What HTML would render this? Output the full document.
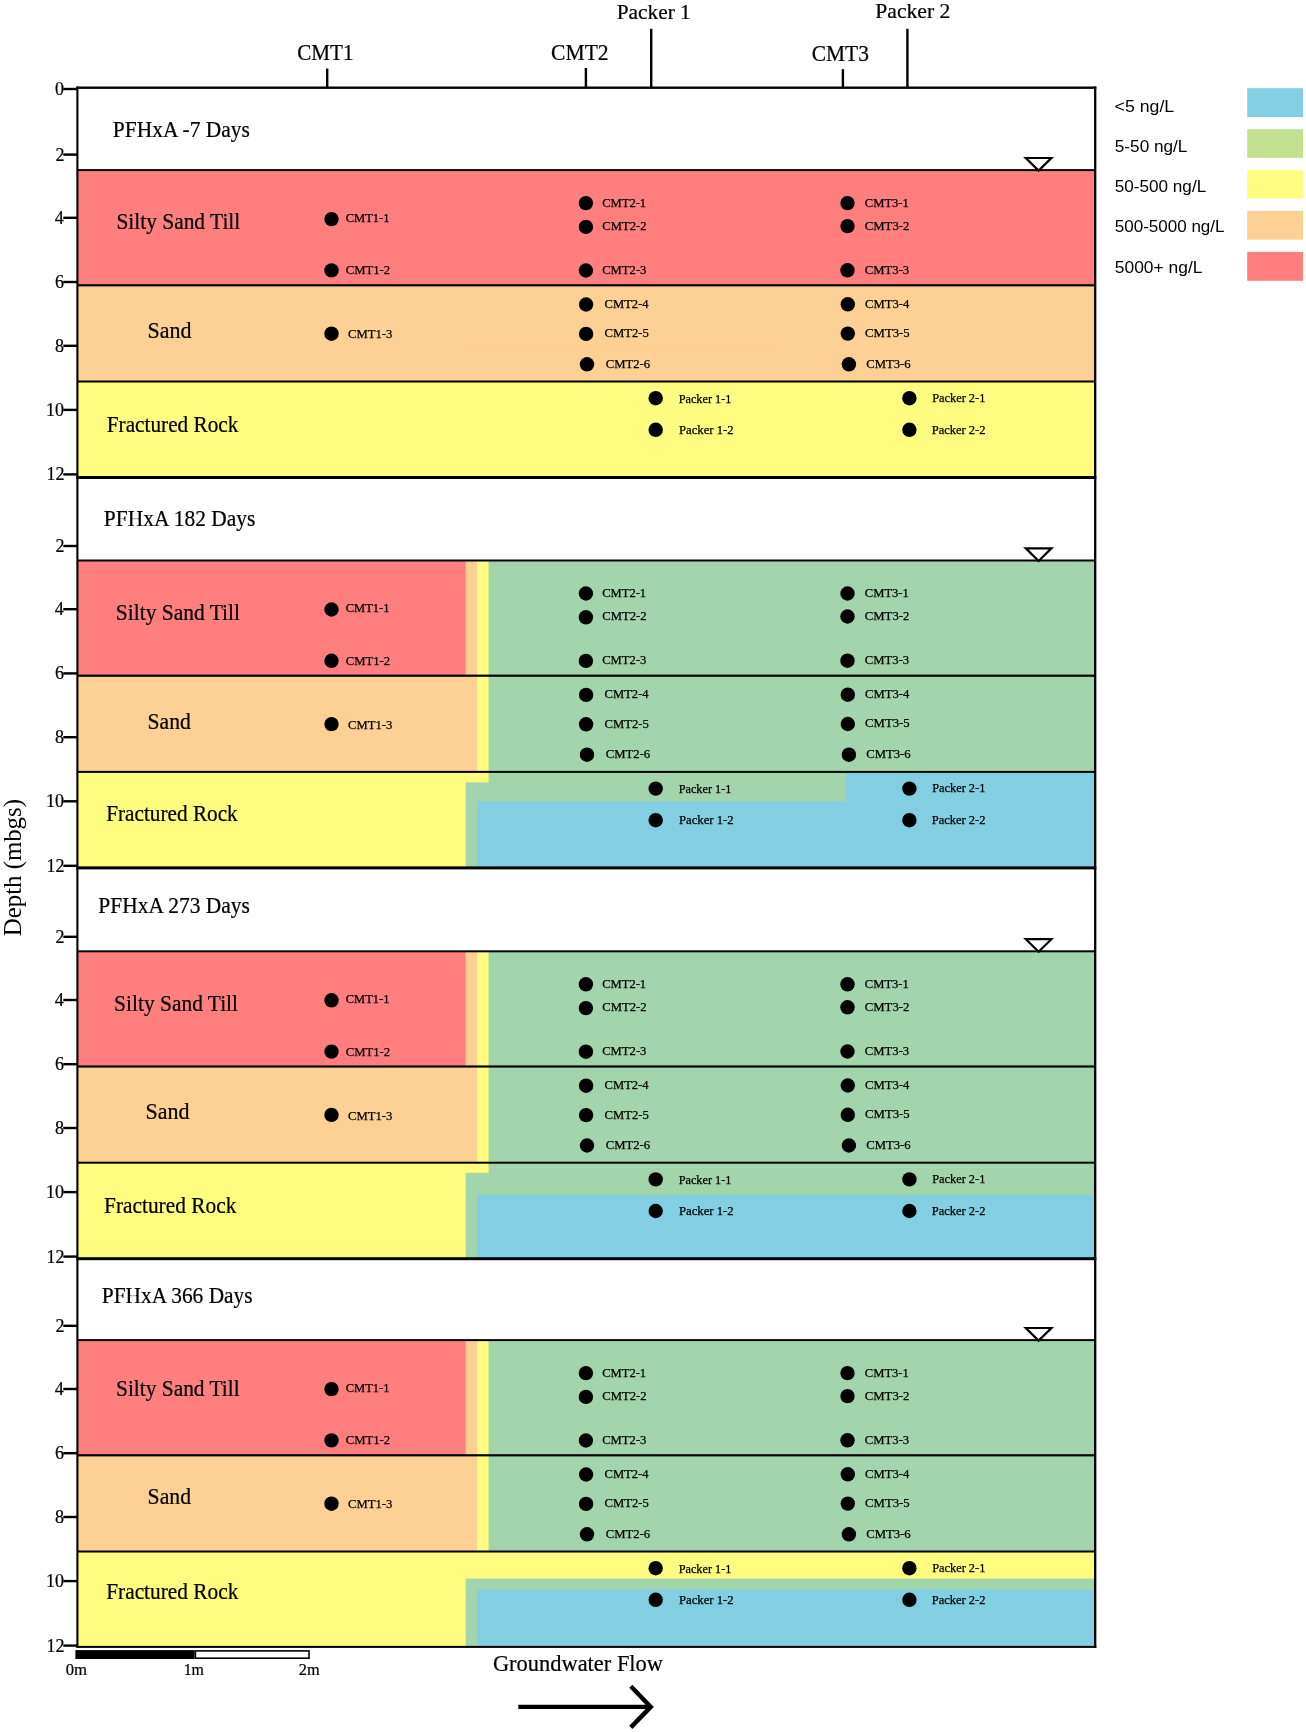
<!DOCTYPE html>
<html><head><meta charset="utf-8"><title>PFHxA cross-sections</title>
<style>html,body{margin:0;padding:0;background:#fff;}svg{display:block;}</style></head>
<body><svg style="will-change:transform" width="1306" height="1732" viewBox="0 0 1306 1732">
<rect x="0" y="0" width="1306" height="1732" fill="#fff"/>
<rect x="77.40" y="170.10" width="1017.80" height="115.20" fill="#FF7F7F"/>
<rect x="77.40" y="285.30" width="1017.80" height="96.00" fill="#FDD093"/>
<rect x="77.40" y="381.30" width="1017.80" height="96.00" fill="#FFFC80"/>
<rect x="459.60" y="346.80" width="322.00" height="1.00" fill="#FDD185"/>
<rect x="77.40" y="169.10" width="1017.80" height="2.00" fill="#000"/>
<rect x="77.40" y="284.20" width="1017.80" height="2.20" fill="#000"/>
<rect x="77.40" y="380.50" width="1017.80" height="2.00" fill="#000"/>
<rect x="76.40" y="476.00" width="1019.90" height="3.00" fill="#000"/>
<path d="M1025.8 158.00 L1051.4 158.00 L1038.6 170.60 Z" fill="#fff" stroke="#000" stroke-width="2.2" stroke-linejoin="miter"/>
<circle cx="331.50" cy="219.10" r="7.2" fill="#000"/>
<circle cx="331.50" cy="270.40" r="7.2" fill="#000"/>
<circle cx="331.50" cy="333.70" r="7.2" fill="#000"/>
<circle cx="585.90" cy="203.10" r="7.2" fill="#000"/>
<circle cx="585.90" cy="226.90" r="7.2" fill="#000"/>
<circle cx="585.90" cy="270.50" r="7.2" fill="#000"/>
<circle cx="586.10" cy="304.50" r="7.2" fill="#000"/>
<circle cx="586.10" cy="333.90" r="7.2" fill="#000"/>
<circle cx="587.00" cy="364.30" r="7.2" fill="#000"/>
<circle cx="847.50" cy="203.10" r="7.2" fill="#000"/>
<circle cx="847.50" cy="226.10" r="7.2" fill="#000"/>
<circle cx="847.50" cy="270.30" r="7.2" fill="#000"/>
<circle cx="847.80" cy="304.30" r="7.2" fill="#000"/>
<circle cx="847.80" cy="333.60" r="7.2" fill="#000"/>
<circle cx="848.90" cy="364.30" r="7.2" fill="#000"/>
<circle cx="655.70" cy="398.20" r="7.2" fill="#000"/>
<circle cx="655.70" cy="429.80" r="7.2" fill="#000"/>
<circle cx="909.40" cy="398.20" r="7.2" fill="#000"/>
<circle cx="909.40" cy="429.80" r="7.2" fill="#000"/>
<rect x="63.30" y="87.80" width="14.10" height="2.40" fill="#000"/>
<rect x="63.30" y="153.40" width="14.10" height="2.40" fill="#000"/>
<rect x="63.30" y="216.60" width="14.10" height="2.40" fill="#000"/>
<rect x="63.30" y="280.80" width="14.10" height="2.40" fill="#000"/>
<rect x="63.30" y="344.60" width="14.10" height="2.40" fill="#000"/>
<rect x="63.30" y="408.70" width="14.10" height="2.40" fill="#000"/>
<rect x="63.30" y="473.20" width="14.10" height="2.40" fill="#000"/>
<rect x="77.40" y="560.50" width="1017.80" height="115.20" fill="#FF7F7F"/>
<rect x="77.40" y="675.70" width="1017.80" height="96.00" fill="#FDD093"/>
<rect x="77.40" y="771.70" width="1017.80" height="96.00" fill="#FFFC80"/>
<rect x="465.70" y="560.50" width="629.50" height="115.20" fill="#FDD093"/>
<rect x="477.10" y="560.50" width="618.10" height="211.20" fill="#FFFC80"/>
<rect x="488.60" y="560.50" width="606.60" height="211.20" fill="#A2D5AB"/>
<rect x="488.60" y="771.70" width="606.60" height="96.00" fill="#A2D5AB"/>
<rect x="465.70" y="782.40" width="629.50" height="85.30" fill="#A2D5AB"/>
<rect x="846.20" y="771.70" width="249.00" height="96.00" fill="#82CFE3"/>
<rect x="477.10" y="801.40" width="618.10" height="66.30" fill="#82CFE3"/>
<rect x="77.40" y="559.50" width="1017.80" height="2.00" fill="#000"/>
<rect x="77.40" y="674.60" width="1017.80" height="2.20" fill="#000"/>
<rect x="77.40" y="770.90" width="1017.80" height="2.00" fill="#000"/>
<rect x="76.40" y="866.40" width="1019.90" height="3.00" fill="#000"/>
<path d="M1025.8 548.40 L1051.4 548.40 L1038.6 561.00 Z" fill="#fff" stroke="#000" stroke-width="2.2" stroke-linejoin="miter"/>
<circle cx="331.50" cy="609.50" r="7.2" fill="#000"/>
<circle cx="331.50" cy="660.80" r="7.2" fill="#000"/>
<circle cx="331.50" cy="724.10" r="7.2" fill="#000"/>
<circle cx="585.90" cy="593.50" r="7.2" fill="#000"/>
<circle cx="585.90" cy="617.30" r="7.2" fill="#000"/>
<circle cx="585.90" cy="660.90" r="7.2" fill="#000"/>
<circle cx="586.10" cy="694.90" r="7.2" fill="#000"/>
<circle cx="586.10" cy="724.30" r="7.2" fill="#000"/>
<circle cx="587.00" cy="754.70" r="7.2" fill="#000"/>
<circle cx="847.50" cy="593.50" r="7.2" fill="#000"/>
<circle cx="847.50" cy="616.50" r="7.2" fill="#000"/>
<circle cx="847.50" cy="660.70" r="7.2" fill="#000"/>
<circle cx="847.80" cy="694.70" r="7.2" fill="#000"/>
<circle cx="847.80" cy="724.00" r="7.2" fill="#000"/>
<circle cx="848.90" cy="754.70" r="7.2" fill="#000"/>
<circle cx="655.70" cy="788.60" r="7.2" fill="#000"/>
<circle cx="655.70" cy="820.20" r="7.2" fill="#000"/>
<circle cx="909.40" cy="788.60" r="7.2" fill="#000"/>
<circle cx="909.40" cy="820.20" r="7.2" fill="#000"/>
<rect x="63.30" y="544.80" width="14.10" height="2.40" fill="#000"/>
<rect x="63.30" y="608.00" width="14.10" height="2.40" fill="#000"/>
<rect x="63.30" y="672.20" width="14.10" height="2.40" fill="#000"/>
<rect x="63.30" y="736.00" width="14.10" height="2.40" fill="#000"/>
<rect x="63.30" y="800.10" width="14.10" height="2.40" fill="#000"/>
<rect x="63.30" y="864.60" width="14.10" height="2.40" fill="#000"/>
<rect x="77.40" y="951.30" width="1017.80" height="115.20" fill="#FF7F7F"/>
<rect x="77.40" y="1066.50" width="1017.80" height="96.00" fill="#FDD093"/>
<rect x="77.40" y="1162.50" width="1017.80" height="96.00" fill="#FFFC80"/>
<rect x="465.70" y="951.30" width="629.50" height="115.20" fill="#FDD093"/>
<rect x="477.10" y="951.30" width="618.10" height="211.20" fill="#FFFC80"/>
<rect x="488.60" y="951.30" width="606.60" height="211.20" fill="#A2D5AB"/>
<rect x="488.60" y="1162.50" width="606.60" height="96.00" fill="#A2D5AB"/>
<rect x="465.70" y="1172.80" width="629.50" height="85.70" fill="#A2D5AB"/>
<rect x="477.10" y="1195.20" width="618.10" height="63.30" fill="#82CFE3"/>
<rect x="77.40" y="950.30" width="1017.80" height="2.00" fill="#000"/>
<rect x="77.40" y="1065.40" width="1017.80" height="2.20" fill="#000"/>
<rect x="77.40" y="1161.70" width="1017.80" height="2.00" fill="#000"/>
<rect x="76.40" y="1257.20" width="1019.90" height="3.00" fill="#000"/>
<path d="M1025.8 939.20 L1051.4 939.20 L1038.6 951.80 Z" fill="#fff" stroke="#000" stroke-width="2.2" stroke-linejoin="miter"/>
<circle cx="331.50" cy="1000.30" r="7.2" fill="#000"/>
<circle cx="331.50" cy="1051.60" r="7.2" fill="#000"/>
<circle cx="331.50" cy="1114.90" r="7.2" fill="#000"/>
<circle cx="585.90" cy="984.30" r="7.2" fill="#000"/>
<circle cx="585.90" cy="1008.10" r="7.2" fill="#000"/>
<circle cx="585.90" cy="1051.70" r="7.2" fill="#000"/>
<circle cx="586.10" cy="1085.70" r="7.2" fill="#000"/>
<circle cx="586.10" cy="1115.10" r="7.2" fill="#000"/>
<circle cx="587.00" cy="1145.50" r="7.2" fill="#000"/>
<circle cx="847.50" cy="984.30" r="7.2" fill="#000"/>
<circle cx="847.50" cy="1007.30" r="7.2" fill="#000"/>
<circle cx="847.50" cy="1051.50" r="7.2" fill="#000"/>
<circle cx="847.80" cy="1085.50" r="7.2" fill="#000"/>
<circle cx="847.80" cy="1114.80" r="7.2" fill="#000"/>
<circle cx="848.90" cy="1145.50" r="7.2" fill="#000"/>
<circle cx="655.70" cy="1179.40" r="7.2" fill="#000"/>
<circle cx="655.70" cy="1211.00" r="7.2" fill="#000"/>
<circle cx="909.40" cy="1179.40" r="7.2" fill="#000"/>
<circle cx="909.40" cy="1211.00" r="7.2" fill="#000"/>
<rect x="63.30" y="935.60" width="14.10" height="2.40" fill="#000"/>
<rect x="63.30" y="998.80" width="14.10" height="2.40" fill="#000"/>
<rect x="63.30" y="1063.00" width="14.10" height="2.40" fill="#000"/>
<rect x="63.30" y="1126.80" width="14.10" height="2.40" fill="#000"/>
<rect x="63.30" y="1190.90" width="14.10" height="2.40" fill="#000"/>
<rect x="63.30" y="1255.40" width="14.10" height="2.40" fill="#000"/>
<rect x="77.40" y="1340.10" width="1017.80" height="115.20" fill="#FF7F7F"/>
<rect x="77.40" y="1455.30" width="1017.80" height="96.00" fill="#FDD093"/>
<rect x="77.40" y="1551.30" width="1017.80" height="96.00" fill="#FFFC80"/>
<rect x="465.70" y="1340.10" width="629.50" height="115.20" fill="#FDD093"/>
<rect x="477.10" y="1340.10" width="618.10" height="211.20" fill="#FFFC80"/>
<rect x="488.60" y="1340.10" width="606.60" height="211.20" fill="#A2D5AB"/>
<rect x="465.70" y="1578.60" width="629.50" height="68.70" fill="#A2D5AB"/>
<rect x="477.10" y="1589.60" width="618.10" height="57.70" fill="#82CFE3"/>
<rect x="77.40" y="1339.10" width="1017.80" height="2.00" fill="#000"/>
<rect x="77.40" y="1454.20" width="1017.80" height="2.20" fill="#000"/>
<rect x="77.40" y="1550.50" width="1017.80" height="2.00" fill="#000"/>
<rect x="76.40" y="1645.90" width="1019.90" height="2.00" fill="#000"/>
<path d="M1025.8 1328.00 L1051.4 1328.00 L1038.6 1340.60 Z" fill="#fff" stroke="#000" stroke-width="2.2" stroke-linejoin="miter"/>
<circle cx="331.50" cy="1389.10" r="7.2" fill="#000"/>
<circle cx="331.50" cy="1440.40" r="7.2" fill="#000"/>
<circle cx="331.50" cy="1503.70" r="7.2" fill="#000"/>
<circle cx="585.90" cy="1373.10" r="7.2" fill="#000"/>
<circle cx="585.90" cy="1396.90" r="7.2" fill="#000"/>
<circle cx="585.90" cy="1440.50" r="7.2" fill="#000"/>
<circle cx="586.10" cy="1474.50" r="7.2" fill="#000"/>
<circle cx="586.10" cy="1503.90" r="7.2" fill="#000"/>
<circle cx="587.00" cy="1534.30" r="7.2" fill="#000"/>
<circle cx="847.50" cy="1373.10" r="7.2" fill="#000"/>
<circle cx="847.50" cy="1396.10" r="7.2" fill="#000"/>
<circle cx="847.50" cy="1440.30" r="7.2" fill="#000"/>
<circle cx="847.80" cy="1474.30" r="7.2" fill="#000"/>
<circle cx="847.80" cy="1503.60" r="7.2" fill="#000"/>
<circle cx="848.90" cy="1534.30" r="7.2" fill="#000"/>
<circle cx="655.70" cy="1568.20" r="7.2" fill="#000"/>
<circle cx="655.70" cy="1599.80" r="7.2" fill="#000"/>
<circle cx="909.40" cy="1568.20" r="7.2" fill="#000"/>
<circle cx="909.40" cy="1599.80" r="7.2" fill="#000"/>
<rect x="63.30" y="1324.60" width="14.10" height="2.40" fill="#000"/>
<rect x="63.30" y="1387.80" width="14.10" height="2.40" fill="#000"/>
<rect x="63.30" y="1452.00" width="14.10" height="2.40" fill="#000"/>
<rect x="63.30" y="1515.80" width="14.10" height="2.40" fill="#000"/>
<rect x="63.30" y="1579.90" width="14.10" height="2.40" fill="#000"/>
<rect x="63.30" y="1644.40" width="14.10" height="2.40" fill="#000"/>
<rect x="76.40" y="86.50" width="1019.90" height="2.40" fill="#000"/>
<rect x="76.35" y="86.50" width="2.10" height="1561.40" fill="#000"/>
<rect x="1094.05" y="86.50" width="2.30" height="1561.40" fill="#000"/>
<rect x="326.00" y="68.60" width="2.40" height="19.40" fill="#000"/>
<rect x="584.70" y="68.00" width="2.40" height="20.00" fill="#000"/>
<rect x="650.00" y="28.80" width="2.40" height="59.20" fill="#000"/>
<rect x="841.70" y="69.20" width="2.40" height="18.80" fill="#000"/>
<rect x="906.20" y="28.80" width="2.40" height="59.20" fill="#000"/>
<rect x="1247.20" y="88.20" width="55.80" height="28.90" fill="#82CFE3"/>
<rect x="1247.20" y="129.20" width="55.80" height="28.60" fill="#C1E18F"/>
<rect x="1247.20" y="170.20" width="55.80" height="28.40" fill="#FFFC80"/>
<rect x="1247.20" y="210.90" width="55.80" height="28.70" fill="#FDD093"/>
<rect x="1247.20" y="251.90" width="55.80" height="28.90" fill="#FF7F7F"/>
<rect x="75.40" y="1650.10" width="119.20" height="8.90" fill="#000"/>
<rect x="195.4" y="1650.9" width="113.6" height="7.3" fill="#fff" stroke="#000" stroke-width="1.6"/>
<path d="M518.3 1706.9 L650 1706.9" stroke="#000" stroke-width="4.4" fill="none"/>
<path d="M630.8 1686.2 L650.8 1706.9 L630.8 1727.4" stroke="#000" stroke-width="4.4" fill="none" stroke-linejoin="miter"/>
<g fill="#000">
<text x="345.70" y="221.90" font-size="12.5" font-family='"Liberation Serif", serif' stroke="#000" stroke-width="0.25">CMT1-1</text>
<text x="345.69" y="274.30" font-size="12.5" font-family='"Liberation Serif", serif' textLength="44.51" lengthAdjust="spacingAndGlyphs" stroke="#000" stroke-width="0.25">CMT1-2</text>
<text x="348.09" y="338.30" font-size="12.5" font-family='"Liberation Serif", serif' textLength="44.21" lengthAdjust="spacingAndGlyphs" stroke="#000" stroke-width="0.25">CMT1-3</text>
<text x="602.20" y="206.90" font-size="12.5" font-family='"Liberation Serif", serif' textLength="43.96" lengthAdjust="spacingAndGlyphs" stroke="#000" stroke-width="0.25">CMT2-1</text>
<text x="602.19" y="230.00" font-size="12.5" font-family='"Liberation Serif", serif' textLength="44.41" lengthAdjust="spacingAndGlyphs" stroke="#000" stroke-width="0.25">CMT2-2</text>
<text x="602.19" y="273.60" font-size="12.5" font-family='"Liberation Serif", serif' textLength="44.21" lengthAdjust="spacingAndGlyphs" stroke="#000" stroke-width="0.25">CMT2-3</text>
<text x="604.60" y="307.80" font-size="12.5" font-family='"Liberation Serif", serif' textLength="43.99" lengthAdjust="spacingAndGlyphs" stroke="#000" stroke-width="0.25">CMT2-4</text>
<text x="604.59" y="337.40" font-size="12.5" font-family='"Liberation Serif", serif' textLength="44.31" lengthAdjust="spacingAndGlyphs" stroke="#000" stroke-width="0.25">CMT2-5</text>
<text x="605.69" y="367.60" font-size="12.5" font-family='"Liberation Serif", serif' textLength="44.49" lengthAdjust="spacingAndGlyphs" stroke="#000" stroke-width="0.25">CMT2-6</text>
<text x="864.80" y="206.90" font-size="12.5" font-family='"Liberation Serif", serif' textLength="44.06" lengthAdjust="spacingAndGlyphs" stroke="#000" stroke-width="0.25">CMT3-1</text>
<text x="864.79" y="230.00" font-size="12.5" font-family='"Liberation Serif", serif' textLength="44.61" lengthAdjust="spacingAndGlyphs" stroke="#000" stroke-width="0.25">CMT3-2</text>
<text x="864.79" y="273.60" font-size="12.5" font-family='"Liberation Serif", serif' textLength="44.42" lengthAdjust="spacingAndGlyphs" stroke="#000" stroke-width="0.25">CMT3-3</text>
<text x="865.09" y="307.60" font-size="12.5" font-family='"Liberation Serif", serif' textLength="44.30" lengthAdjust="spacingAndGlyphs" stroke="#000" stroke-width="0.25">CMT3-4</text>
<text x="865.09" y="336.90" font-size="12.5" font-family='"Liberation Serif", serif' textLength="44.62" lengthAdjust="spacingAndGlyphs" stroke="#000" stroke-width="0.25">CMT3-5</text>
<text x="866.19" y="367.60" font-size="12.5" font-family='"Liberation Serif", serif' textLength="44.49" lengthAdjust="spacingAndGlyphs" stroke="#000" stroke-width="0.25">CMT3-6</text>
<text x="678.63" y="403.00" font-size="12.5" font-family='"Liberation Serif", serif' textLength="52.79" lengthAdjust="spacingAndGlyphs" stroke="#000" stroke-width="0.25">Packer 1-1</text>
<text x="679.02" y="433.60" font-size="12.5" font-family='"Liberation Serif", serif' textLength="54.66" lengthAdjust="spacingAndGlyphs" stroke="#000" stroke-width="0.25">Packer 1-2</text>
<text x="932.13" y="401.50" font-size="12.5" font-family='"Liberation Serif", serif' textLength="53.20" lengthAdjust="spacingAndGlyphs" stroke="#000" stroke-width="0.25">Packer 2-1</text>
<text x="931.72" y="433.60" font-size="12.5" font-family='"Liberation Serif", serif' stroke="#000" stroke-width="0.25">Packer 2-2</text>
<text x="55.12" y="94.90" font-size="18" font-family='"Liberation Serif", serif' stroke="#000" stroke-width="0.22">0</text>
<text x="55.39" y="160.50" font-size="18" font-family='"Liberation Serif", serif' stroke="#000" stroke-width="0.22">2</text>
<text x="54.67" y="223.70" font-size="18" font-family='"Liberation Serif", serif' stroke="#000" stroke-width="0.22">4</text>
<text x="54.94" y="287.90" font-size="18" font-family='"Liberation Serif", serif' stroke="#000" stroke-width="0.22">6</text>
<text x="55.12" y="351.70" font-size="18" font-family='"Liberation Serif", serif' stroke="#000" stroke-width="0.22">8</text>
<text x="46.12" y="415.80" font-size="18" font-family='"Liberation Serif", serif' stroke="#000" stroke-width="0.22">10</text>
<text x="46.39" y="480.30" font-size="18" font-family='"Liberation Serif", serif' stroke="#000" stroke-width="0.22">12</text>
<text x="345.70" y="612.30" font-size="12.5" font-family='"Liberation Serif", serif' stroke="#000" stroke-width="0.25">CMT1-1</text>
<text x="345.69" y="664.70" font-size="12.5" font-family='"Liberation Serif", serif' textLength="44.51" lengthAdjust="spacingAndGlyphs" stroke="#000" stroke-width="0.25">CMT1-2</text>
<text x="348.09" y="728.70" font-size="12.5" font-family='"Liberation Serif", serif' textLength="44.21" lengthAdjust="spacingAndGlyphs" stroke="#000" stroke-width="0.25">CMT1-3</text>
<text x="602.20" y="597.30" font-size="12.5" font-family='"Liberation Serif", serif' textLength="43.96" lengthAdjust="spacingAndGlyphs" stroke="#000" stroke-width="0.25">CMT2-1</text>
<text x="602.19" y="620.40" font-size="12.5" font-family='"Liberation Serif", serif' textLength="44.41" lengthAdjust="spacingAndGlyphs" stroke="#000" stroke-width="0.25">CMT2-2</text>
<text x="602.19" y="664.00" font-size="12.5" font-family='"Liberation Serif", serif' textLength="44.21" lengthAdjust="spacingAndGlyphs" stroke="#000" stroke-width="0.25">CMT2-3</text>
<text x="604.60" y="698.20" font-size="12.5" font-family='"Liberation Serif", serif' textLength="43.99" lengthAdjust="spacingAndGlyphs" stroke="#000" stroke-width="0.25">CMT2-4</text>
<text x="604.59" y="727.80" font-size="12.5" font-family='"Liberation Serif", serif' textLength="44.31" lengthAdjust="spacingAndGlyphs" stroke="#000" stroke-width="0.25">CMT2-5</text>
<text x="605.69" y="758.00" font-size="12.5" font-family='"Liberation Serif", serif' textLength="44.49" lengthAdjust="spacingAndGlyphs" stroke="#000" stroke-width="0.25">CMT2-6</text>
<text x="864.80" y="597.30" font-size="12.5" font-family='"Liberation Serif", serif' textLength="44.06" lengthAdjust="spacingAndGlyphs" stroke="#000" stroke-width="0.25">CMT3-1</text>
<text x="864.79" y="620.40" font-size="12.5" font-family='"Liberation Serif", serif' textLength="44.61" lengthAdjust="spacingAndGlyphs" stroke="#000" stroke-width="0.25">CMT3-2</text>
<text x="864.79" y="664.00" font-size="12.5" font-family='"Liberation Serif", serif' textLength="44.42" lengthAdjust="spacingAndGlyphs" stroke="#000" stroke-width="0.25">CMT3-3</text>
<text x="865.09" y="698.00" font-size="12.5" font-family='"Liberation Serif", serif' textLength="44.30" lengthAdjust="spacingAndGlyphs" stroke="#000" stroke-width="0.25">CMT3-4</text>
<text x="865.09" y="727.30" font-size="12.5" font-family='"Liberation Serif", serif' textLength="44.62" lengthAdjust="spacingAndGlyphs" stroke="#000" stroke-width="0.25">CMT3-5</text>
<text x="866.19" y="758.00" font-size="12.5" font-family='"Liberation Serif", serif' textLength="44.49" lengthAdjust="spacingAndGlyphs" stroke="#000" stroke-width="0.25">CMT3-6</text>
<text x="678.63" y="793.40" font-size="12.5" font-family='"Liberation Serif", serif' textLength="52.79" lengthAdjust="spacingAndGlyphs" stroke="#000" stroke-width="0.25">Packer 1-1</text>
<text x="679.02" y="824.00" font-size="12.5" font-family='"Liberation Serif", serif' textLength="54.66" lengthAdjust="spacingAndGlyphs" stroke="#000" stroke-width="0.25">Packer 1-2</text>
<text x="932.13" y="791.90" font-size="12.5" font-family='"Liberation Serif", serif' textLength="53.20" lengthAdjust="spacingAndGlyphs" stroke="#000" stroke-width="0.25">Packer 2-1</text>
<text x="931.72" y="824.00" font-size="12.5" font-family='"Liberation Serif", serif' stroke="#000" stroke-width="0.25">Packer 2-2</text>
<text x="55.39" y="551.90" font-size="18" font-family='"Liberation Serif", serif' stroke="#000" stroke-width="0.22">2</text>
<text x="54.67" y="615.10" font-size="18" font-family='"Liberation Serif", serif' stroke="#000" stroke-width="0.22">4</text>
<text x="54.94" y="679.30" font-size="18" font-family='"Liberation Serif", serif' stroke="#000" stroke-width="0.22">6</text>
<text x="55.12" y="743.10" font-size="18" font-family='"Liberation Serif", serif' stroke="#000" stroke-width="0.22">8</text>
<text x="46.12" y="807.20" font-size="18" font-family='"Liberation Serif", serif' stroke="#000" stroke-width="0.22">10</text>
<text x="46.39" y="871.70" font-size="18" font-family='"Liberation Serif", serif' stroke="#000" stroke-width="0.22">12</text>
<text x="345.70" y="1003.10" font-size="12.5" font-family='"Liberation Serif", serif' stroke="#000" stroke-width="0.25">CMT1-1</text>
<text x="345.69" y="1055.50" font-size="12.5" font-family='"Liberation Serif", serif' textLength="44.51" lengthAdjust="spacingAndGlyphs" stroke="#000" stroke-width="0.25">CMT1-2</text>
<text x="348.09" y="1119.50" font-size="12.5" font-family='"Liberation Serif", serif' textLength="44.21" lengthAdjust="spacingAndGlyphs" stroke="#000" stroke-width="0.25">CMT1-3</text>
<text x="602.20" y="988.10" font-size="12.5" font-family='"Liberation Serif", serif' textLength="43.96" lengthAdjust="spacingAndGlyphs" stroke="#000" stroke-width="0.25">CMT2-1</text>
<text x="602.19" y="1011.20" font-size="12.5" font-family='"Liberation Serif", serif' textLength="44.41" lengthAdjust="spacingAndGlyphs" stroke="#000" stroke-width="0.25">CMT2-2</text>
<text x="602.19" y="1054.80" font-size="12.5" font-family='"Liberation Serif", serif' textLength="44.21" lengthAdjust="spacingAndGlyphs" stroke="#000" stroke-width="0.25">CMT2-3</text>
<text x="604.60" y="1089.00" font-size="12.5" font-family='"Liberation Serif", serif' textLength="43.99" lengthAdjust="spacingAndGlyphs" stroke="#000" stroke-width="0.25">CMT2-4</text>
<text x="604.59" y="1118.60" font-size="12.5" font-family='"Liberation Serif", serif' textLength="44.31" lengthAdjust="spacingAndGlyphs" stroke="#000" stroke-width="0.25">CMT2-5</text>
<text x="605.69" y="1148.80" font-size="12.5" font-family='"Liberation Serif", serif' textLength="44.49" lengthAdjust="spacingAndGlyphs" stroke="#000" stroke-width="0.25">CMT2-6</text>
<text x="864.80" y="988.10" font-size="12.5" font-family='"Liberation Serif", serif' textLength="44.06" lengthAdjust="spacingAndGlyphs" stroke="#000" stroke-width="0.25">CMT3-1</text>
<text x="864.79" y="1011.20" font-size="12.5" font-family='"Liberation Serif", serif' textLength="44.61" lengthAdjust="spacingAndGlyphs" stroke="#000" stroke-width="0.25">CMT3-2</text>
<text x="864.79" y="1054.80" font-size="12.5" font-family='"Liberation Serif", serif' textLength="44.42" lengthAdjust="spacingAndGlyphs" stroke="#000" stroke-width="0.25">CMT3-3</text>
<text x="865.09" y="1088.80" font-size="12.5" font-family='"Liberation Serif", serif' textLength="44.30" lengthAdjust="spacingAndGlyphs" stroke="#000" stroke-width="0.25">CMT3-4</text>
<text x="865.09" y="1118.10" font-size="12.5" font-family='"Liberation Serif", serif' textLength="44.62" lengthAdjust="spacingAndGlyphs" stroke="#000" stroke-width="0.25">CMT3-5</text>
<text x="866.19" y="1148.80" font-size="12.5" font-family='"Liberation Serif", serif' textLength="44.49" lengthAdjust="spacingAndGlyphs" stroke="#000" stroke-width="0.25">CMT3-6</text>
<text x="678.63" y="1184.20" font-size="12.5" font-family='"Liberation Serif", serif' textLength="52.79" lengthAdjust="spacingAndGlyphs" stroke="#000" stroke-width="0.25">Packer 1-1</text>
<text x="679.02" y="1214.80" font-size="12.5" font-family='"Liberation Serif", serif' textLength="54.66" lengthAdjust="spacingAndGlyphs" stroke="#000" stroke-width="0.25">Packer 1-2</text>
<text x="932.13" y="1182.70" font-size="12.5" font-family='"Liberation Serif", serif' textLength="53.20" lengthAdjust="spacingAndGlyphs" stroke="#000" stroke-width="0.25">Packer 2-1</text>
<text x="931.72" y="1214.80" font-size="12.5" font-family='"Liberation Serif", serif' stroke="#000" stroke-width="0.25">Packer 2-2</text>
<text x="55.39" y="942.70" font-size="18" font-family='"Liberation Serif", serif' stroke="#000" stroke-width="0.22">2</text>
<text x="54.67" y="1005.90" font-size="18" font-family='"Liberation Serif", serif' stroke="#000" stroke-width="0.22">4</text>
<text x="54.94" y="1070.10" font-size="18" font-family='"Liberation Serif", serif' stroke="#000" stroke-width="0.22">6</text>
<text x="55.12" y="1133.90" font-size="18" font-family='"Liberation Serif", serif' stroke="#000" stroke-width="0.22">8</text>
<text x="46.12" y="1198.00" font-size="18" font-family='"Liberation Serif", serif' stroke="#000" stroke-width="0.22">10</text>
<text x="46.39" y="1262.50" font-size="18" font-family='"Liberation Serif", serif' stroke="#000" stroke-width="0.22">12</text>
<text x="345.70" y="1391.90" font-size="12.5" font-family='"Liberation Serif", serif' stroke="#000" stroke-width="0.25">CMT1-1</text>
<text x="345.69" y="1444.30" font-size="12.5" font-family='"Liberation Serif", serif' textLength="44.51" lengthAdjust="spacingAndGlyphs" stroke="#000" stroke-width="0.25">CMT1-2</text>
<text x="348.09" y="1508.30" font-size="12.5" font-family='"Liberation Serif", serif' textLength="44.21" lengthAdjust="spacingAndGlyphs" stroke="#000" stroke-width="0.25">CMT1-3</text>
<text x="602.20" y="1376.90" font-size="12.5" font-family='"Liberation Serif", serif' textLength="43.96" lengthAdjust="spacingAndGlyphs" stroke="#000" stroke-width="0.25">CMT2-1</text>
<text x="602.19" y="1400.00" font-size="12.5" font-family='"Liberation Serif", serif' textLength="44.41" lengthAdjust="spacingAndGlyphs" stroke="#000" stroke-width="0.25">CMT2-2</text>
<text x="602.19" y="1443.60" font-size="12.5" font-family='"Liberation Serif", serif' textLength="44.21" lengthAdjust="spacingAndGlyphs" stroke="#000" stroke-width="0.25">CMT2-3</text>
<text x="604.60" y="1477.80" font-size="12.5" font-family='"Liberation Serif", serif' textLength="43.99" lengthAdjust="spacingAndGlyphs" stroke="#000" stroke-width="0.25">CMT2-4</text>
<text x="604.59" y="1507.40" font-size="12.5" font-family='"Liberation Serif", serif' textLength="44.31" lengthAdjust="spacingAndGlyphs" stroke="#000" stroke-width="0.25">CMT2-5</text>
<text x="605.69" y="1537.60" font-size="12.5" font-family='"Liberation Serif", serif' textLength="44.49" lengthAdjust="spacingAndGlyphs" stroke="#000" stroke-width="0.25">CMT2-6</text>
<text x="864.80" y="1376.90" font-size="12.5" font-family='"Liberation Serif", serif' textLength="44.06" lengthAdjust="spacingAndGlyphs" stroke="#000" stroke-width="0.25">CMT3-1</text>
<text x="864.79" y="1400.00" font-size="12.5" font-family='"Liberation Serif", serif' textLength="44.61" lengthAdjust="spacingAndGlyphs" stroke="#000" stroke-width="0.25">CMT3-2</text>
<text x="864.79" y="1443.60" font-size="12.5" font-family='"Liberation Serif", serif' textLength="44.42" lengthAdjust="spacingAndGlyphs" stroke="#000" stroke-width="0.25">CMT3-3</text>
<text x="865.09" y="1477.60" font-size="12.5" font-family='"Liberation Serif", serif' textLength="44.30" lengthAdjust="spacingAndGlyphs" stroke="#000" stroke-width="0.25">CMT3-4</text>
<text x="865.09" y="1506.90" font-size="12.5" font-family='"Liberation Serif", serif' textLength="44.62" lengthAdjust="spacingAndGlyphs" stroke="#000" stroke-width="0.25">CMT3-5</text>
<text x="866.19" y="1537.60" font-size="12.5" font-family='"Liberation Serif", serif' textLength="44.49" lengthAdjust="spacingAndGlyphs" stroke="#000" stroke-width="0.25">CMT3-6</text>
<text x="678.63" y="1573.00" font-size="12.5" font-family='"Liberation Serif", serif' textLength="52.79" lengthAdjust="spacingAndGlyphs" stroke="#000" stroke-width="0.25">Packer 1-1</text>
<text x="679.02" y="1603.60" font-size="12.5" font-family='"Liberation Serif", serif' textLength="54.66" lengthAdjust="spacingAndGlyphs" stroke="#000" stroke-width="0.25">Packer 1-2</text>
<text x="932.13" y="1571.50" font-size="12.5" font-family='"Liberation Serif", serif' textLength="53.20" lengthAdjust="spacingAndGlyphs" stroke="#000" stroke-width="0.25">Packer 2-1</text>
<text x="931.72" y="1603.60" font-size="12.5" font-family='"Liberation Serif", serif' stroke="#000" stroke-width="0.25">Packer 2-2</text>
<text x="55.39" y="1331.70" font-size="18" font-family='"Liberation Serif", serif' stroke="#000" stroke-width="0.22">2</text>
<text x="54.67" y="1394.90" font-size="18" font-family='"Liberation Serif", serif' stroke="#000" stroke-width="0.22">4</text>
<text x="54.94" y="1459.10" font-size="18" font-family='"Liberation Serif", serif' stroke="#000" stroke-width="0.22">6</text>
<text x="55.12" y="1522.90" font-size="18" font-family='"Liberation Serif", serif' stroke="#000" stroke-width="0.22">8</text>
<text x="46.12" y="1587.00" font-size="18" font-family='"Liberation Serif", serif' stroke="#000" stroke-width="0.22">10</text>
<text x="46.39" y="1651.50" font-size="18" font-family='"Liberation Serif", serif' stroke="#000" stroke-width="0.22">12</text>
<text x="112.86" y="137.00" font-size="22.4" font-family='"Liberation Serif", serif' textLength="137.09" lengthAdjust="spacingAndGlyphs" stroke="#000" stroke-width="0.22">PFHxA -7 Days</text>
<text x="103.86" y="525.50" font-size="22.4" font-family='"Liberation Serif", serif' textLength="151.53" lengthAdjust="spacingAndGlyphs" stroke="#000" stroke-width="0.22">PFHxA 182 Days</text>
<text x="98.36" y="913.40" font-size="22.4" font-family='"Liberation Serif", serif' textLength="151.53" lengthAdjust="spacingAndGlyphs" stroke="#000" stroke-width="0.22">PFHxA 273 Days</text>
<text x="101.76" y="1302.70" font-size="22.4" font-family='"Liberation Serif", serif' textLength="150.82" lengthAdjust="spacingAndGlyphs" stroke="#000" stroke-width="0.22">PFHxA 366 Days</text>
<text x="116.41" y="229.40" font-size="22.2" font-family='"Liberation Serif", serif' textLength="123.83" lengthAdjust="spacingAndGlyphs" stroke="#000" stroke-width="0.22">Silty Sand Till</text>
<text x="147.57" y="338.20" font-size="22.2" font-family='"Liberation Serif", serif' textLength="43.95" lengthAdjust="spacingAndGlyphs" stroke="#000" stroke-width="0.22">Sand</text>
<text x="106.76" y="432.00" font-size="22.2" font-family='"Liberation Serif", serif' textLength="131.69" lengthAdjust="spacingAndGlyphs" stroke="#000" stroke-width="0.22">Fractured Rock</text>
<text x="115.80" y="619.50" font-size="22.2" font-family='"Liberation Serif", serif' textLength="124.23" lengthAdjust="spacingAndGlyphs" stroke="#000" stroke-width="0.22">Silty Sand Till</text>
<text x="147.60" y="728.50" font-size="22.2" font-family='"Liberation Serif", serif' textLength="43.22" lengthAdjust="spacingAndGlyphs" stroke="#000" stroke-width="0.22">Sand</text>
<text x="106.16" y="821.30" font-size="22.2" font-family='"Liberation Serif", serif' textLength="131.59" lengthAdjust="spacingAndGlyphs" stroke="#000" stroke-width="0.22">Fractured Rock</text>
<text x="114.11" y="1010.50" font-size="22.2" font-family='"Liberation Serif", serif' textLength="123.93" lengthAdjust="spacingAndGlyphs" stroke="#000" stroke-width="0.22">Silty Sand Till</text>
<text x="145.47" y="1119.20" font-size="22.2" font-family='"Liberation Serif", serif' textLength="43.95" lengthAdjust="spacingAndGlyphs" stroke="#000" stroke-width="0.22">Sand</text>
<text x="104.06" y="1212.70" font-size="22.2" font-family='"Liberation Serif", serif' textLength="132.29" lengthAdjust="spacingAndGlyphs" stroke="#000" stroke-width="0.22">Fractured Rock</text>
<text x="116.01" y="1395.60" font-size="22.2" font-family='"Liberation Serif", serif' textLength="123.63" lengthAdjust="spacingAndGlyphs" stroke="#000" stroke-width="0.22">Silty Sand Till</text>
<text x="147.59" y="1504.30" font-size="22.2" font-family='"Liberation Serif", serif' textLength="43.43" lengthAdjust="spacingAndGlyphs" stroke="#000" stroke-width="0.22">Sand</text>
<text x="106.16" y="1599.20" font-size="22.2" font-family='"Liberation Serif", serif' textLength="132.29" lengthAdjust="spacingAndGlyphs" stroke="#000" stroke-width="0.22">Fractured Rock</text>
<text x="297.15" y="59.65" font-size="22.6" font-family='"Liberation Serif", serif' textLength="56.36" lengthAdjust="spacingAndGlyphs" stroke="#000" stroke-width="0.22">CMT1</text>
<text x="551.04" y="60.00" font-size="22.6" font-family='"Liberation Serif", serif' textLength="57.60" lengthAdjust="spacingAndGlyphs" stroke="#000" stroke-width="0.22">CMT2</text>
<text x="811.74" y="61.30" font-size="22.6" font-family='"Liberation Serif", serif' textLength="57.16" lengthAdjust="spacingAndGlyphs" stroke="#000" stroke-width="0.22">CMT3</text>
<text x="616.76" y="18.80" font-size="21.7" font-family='"Liberation Serif", serif' textLength="74.03" lengthAdjust="spacingAndGlyphs" stroke="#000" stroke-width="0.22">Packer 1</text>
<text x="875.35" y="18.30" font-size="21.7" font-family='"Liberation Serif", serif' textLength="75.05" lengthAdjust="spacingAndGlyphs" stroke="#000" stroke-width="0.22">Packer 2</text>
<text x="1114.61" y="112.30" font-size="16.3" font-family='"Liberation Sans", sans-serif' textLength="59.60" lengthAdjust="spacingAndGlyphs">&lt;5 ng/L</text>
<text x="1114.81" y="152.10" font-size="16.3" font-family='"Liberation Sans", sans-serif' textLength="72.61" lengthAdjust="spacingAndGlyphs">5-50 ng/L</text>
<text x="1114.82" y="192.00" font-size="16.3" font-family='"Liberation Sans", sans-serif' textLength="91.35" lengthAdjust="spacingAndGlyphs">50-500 ng/L</text>
<text x="1114.82" y="232.00" font-size="16.3" font-family='"Liberation Sans", sans-serif' textLength="109.70" lengthAdjust="spacingAndGlyphs">500-5000 ng/L</text>
<text x="1114.80" y="272.80" font-size="16.3" font-family='"Liberation Sans", sans-serif' textLength="87.67" lengthAdjust="spacingAndGlyphs">5000+ ng/L</text>
<text transform="translate(21.1 936.14) rotate(-90)" x="0" y="0" font-size="24.5" font-family='"Liberation Serif", serif' textLength="137.08" lengthAdjust="spacingAndGlyphs">Depth (mbgs)</text>
<text x="65.73" y="1675.00" font-size="16" font-family='"Liberation Serif", serif' textLength="21.38" lengthAdjust="spacingAndGlyphs" stroke="#000" stroke-width="0.22">0m</text>
<text x="183.65" y="1675.00" font-size="16" font-family='"Liberation Serif", serif' textLength="20.25" lengthAdjust="spacingAndGlyphs" stroke="#000" stroke-width="0.22">1m</text>
<text x="298.77" y="1675.00" font-size="16" font-family='"Liberation Serif", serif' textLength="20.84" lengthAdjust="spacingAndGlyphs" stroke="#000" stroke-width="0.22">2m</text>
<text x="492.90" y="1670.80" font-size="23.8" font-family='"Liberation Serif", serif' textLength="170.14" lengthAdjust="spacingAndGlyphs" stroke="#000" stroke-width="0.22">Groundwater Flow</text>
<rect x="120.3" y="517.5" width="3.50" height="2.40" fill="#fff" fill-opacity="0.72"/>
<rect x="132.6" y="517.5" width="5.60" height="2.40" fill="#fff" fill-opacity="0.72"/>
<rect x="118.4" y="1294.6" width="3.20" height="2.30" fill="#fff" fill-opacity="0.72"/>
<rect x="130.2" y="1294.6" width="5.80" height="2.30" fill="#fff" fill-opacity="0.72"/>
</g>
</svg></body></html>
